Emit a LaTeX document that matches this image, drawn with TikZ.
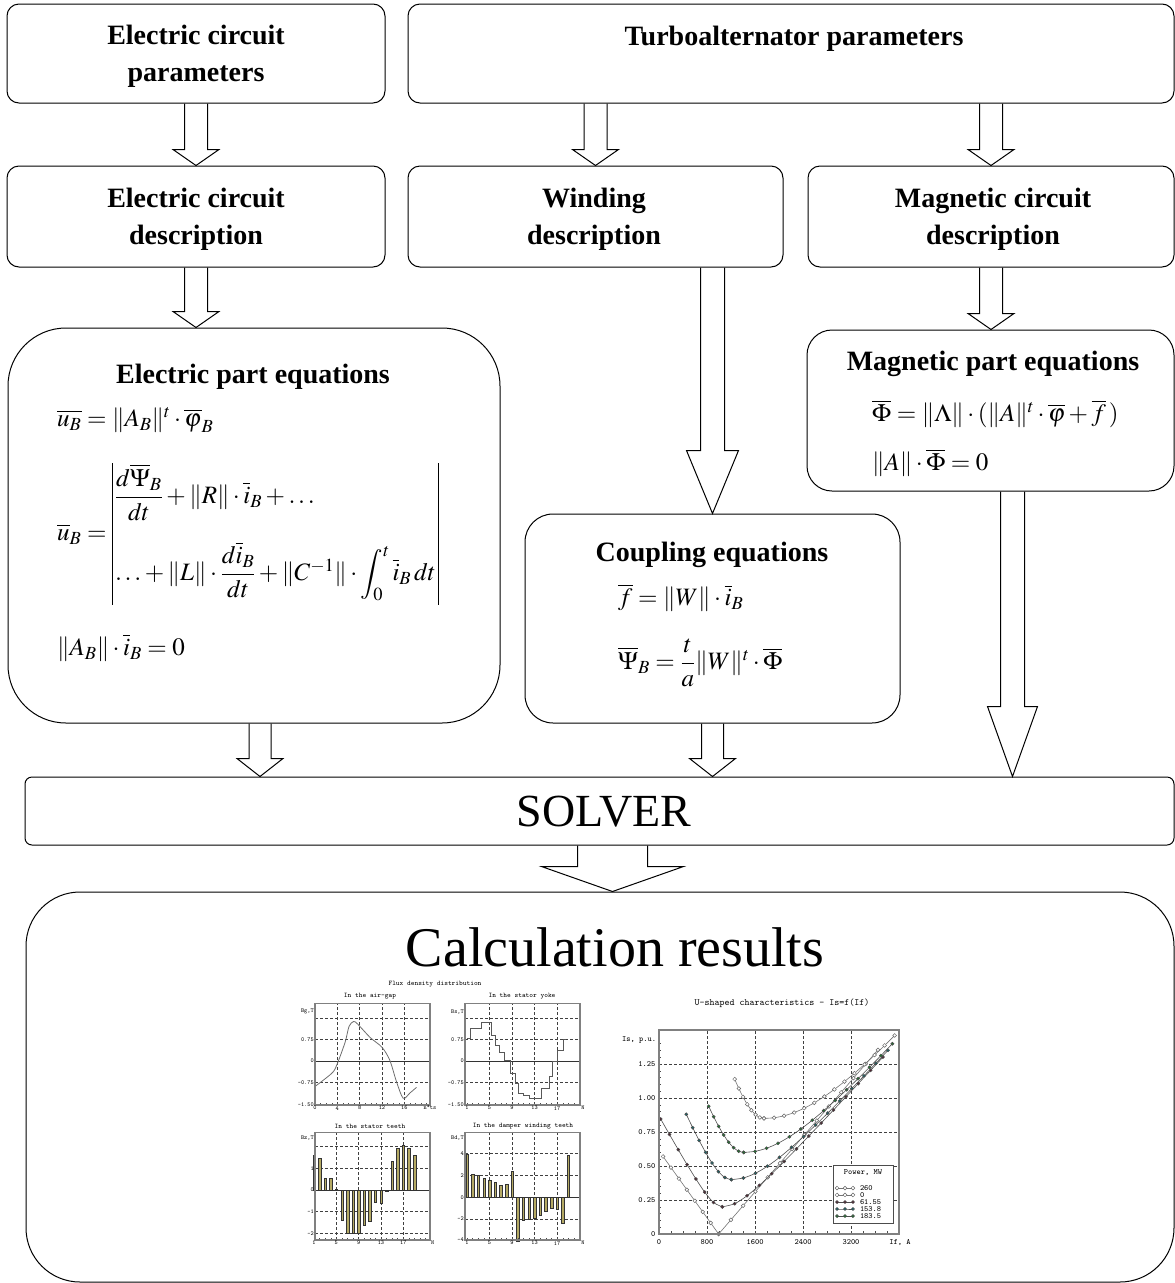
\documentclass[tikz,border=0pt]{standalone}
\usepackage{amsmath}
\usepackage{mathptmx}
\usepackage[no-math]{fontspec}
\setmainfont{Liberation Serif}
\usetikzlibrary{calc}
\definecolor{olivebar}{RGB}{181,170,100}
\definecolor{plotgray}{RGB}{110,110,110}
\definecolor{markdark}{RGB}{80,30,45}
\definecolor{markteal}{RGB}{20,105,110}
\definecolor{markgreen}{RGB}{25,125,45}

\tikzset{
  box/.style={draw, line width=1pt, rounded corners=12pt, inner sep=0pt},
  heading/.style={font=\bfseries\fontsize{28}{37}\selectfont, align=center, inner sep=0pt},
  eqn/.style={font=\fontsize{25}{30}\selectfont, anchor=west, inner sep=0pt},
  hollow/.style={draw, line width=1pt, line join=miter},
  plotframe/.style={draw=gray, line width=1.2pt},
  gridline/.style={densely dashed, line width=0.5pt, black!75},
  zeroline/.style={line width=0.7pt, black!80},
  minortick/.style={line width=0.4pt, black!70},
  ticklabel/.style={font=\ttfamily\fontsize{6}{6}\selectfont, inner sep=1pt},
  subtitle/.style={font=\ttfamily\fontsize{7}{7}\selectfont, inner sep=0pt},
  bigticklabel/.style={font=\ttfamily\fontsize{8}{8}\selectfont, inner sep=1pt},
  bar/.style={fill=olivebar, draw=black!80, line width=0.3pt},
  opencurve/.style={black!55, line width=0.6pt, mark=*, mark size=1.9pt, mark options={fill=white, draw=black!60, line width=0.5pt}},
  dotcurve/.style={black!70, line width=0.6pt, mark=*, mark size=1.5pt}
}

% block arrow: start, target (its y is used), half shaft, half head, head length
\newcommand{\hollowarrow}[5]{%
  \draw[hollow] let \p1=(#1), \p2=(#2) in
    (\x1-#3pt,\y1) -- (\x1-#3pt,\y2+#5pt) -- (\x1-#4pt,\y2+#5pt) -- (\x1,\y2)
    -- (\x1+#4pt,\y2+#5pt) -- (\x1+#3pt,\y2+#5pt) -- (\x1+#3pt,\y1);}

% U-curve: p, centre, left slope, right slope, from, to, style
\newcommand{\vcurve}[7]{%
  \draw[#7] plot[smooth, domain=#5:#2, samples=8]
    (\x,{sqrt((#1)*(#1)+((\x-#2)*#3/1000)*((\x-#2)*#3/1000))})
    -- plot[smooth, domain=#2:#6, samples=14]
    (\x,{sqrt((#1)*(#1)+((\x-#2)*#4/1000)*((\x-#2)*#4/1000))});}

\begin{document}
\begin{tikzpicture}[x=1pt,y=-1pt]
  \useasboundingbox (0,0) rectangle (1175,1283);

  % parameters
  \node[box, minimum width=378pt, minimum height=99pt] (ecp) at (196,53.5) {};
  \node[box, minimum width=766pt, minimum height=99pt] (tap) at (791,53.5) {};
  \node[heading] at (196,56) {Electric circuit\\parameters};
  \node[heading] at (794,39) {Turboalternator parameters};

  % descriptions
  \node[box, minimum width=378pt, minimum height=101pt] (ecd) at (196,216.5) {};
  \node[box, minimum width=375pt, minimum height=101pt] (wd) at (595.5,216.5) {};
  \node[box, minimum width=366pt, minimum height=101pt] (mcd) at (991,216.5) {};
  \node[heading] at (196,219) {Electric circuit\\description};
  \node[heading] at (594,219) {Winding\\description};
  \node[heading] at (993,219) {Magnetic circuit\\description};

  % equations
  \node[box, rounded corners=58pt, minimum width=492pt, minimum height=395pt] (eeq) at (254,525.5) {};
  \node[box, rounded corners=28pt, minimum width=375pt, minimum height=209pt] (ceq) at (712.5,618.5) {};
  \node[box, rounded corners=25pt, minimum width=367pt, minimum height=161pt] (meq) at (990.5,410.5) {};

  \node[heading] at (253,377) {Electric part equations};
  \node[eqn] at (57,420) {$\overline{u_B} = \|A_B\|^t\cdot\overline{\varphi}_B$};
  \node[eqn] at (57,534) {$\overline{u}_B = \begin{array}{|@{\,}l@{\,}|}
      \rule{0pt}{40pt}\dfrac{d\overline{\Psi}_B}{dt} + \|R\|\cdot\overline{i}_B + \ldots\\[30pt]
      \ldots + \|L\|\cdot\dfrac{d\overline{i}_B}{dt} + \|C^{-1}\|\cdot\displaystyle\int_0^t\overline{i}_B\,dt\rule[-24pt]{0pt}{0pt}
    \end{array}$};
  \node[eqn] at (57,648) {$\|A_B\|\cdot\overline{i}_B = 0$};

  \node[heading] at (712,555) {Coupling equations};
  \node[eqn] at (618,598) {$\overline{f} = \|W\|\cdot\overline{i}_B$};
  \node[eqn] at (618,663) {$\overline{\Psi}_B = \dfrac{t}{a}\|W\|^t\cdot\overline{\Phi}$};

  \node[heading] at (993,364) {Magnetic part equations};
  \node[eqn] at (872,414) {$\overline{\Phi} = \|\Lambda\|\cdot(\|A\|^t\cdot\overline{\varphi}+\overline{f}\,)$};
  \node[eqn] at (872,463) {$\|A\|\cdot\overline{\Phi} = 0$};

  % solver and results
  \node[box, rounded corners=7pt, minimum width=1149pt, minimum height=68pt] (sol) at (599.5,811) {};
  \node[box, rounded corners=54pt, minimum width=1148pt, minimum height=390pt] (res) at (600,1087) {};
  \node[font=\fontsize{46}{46}\selectfont, inner sep=0pt] at (604,812) {SOLVER};
  \node[font=\fontsize{56}{56}\selectfont, inner sep=0pt] at (615,947) {Calculation results};

  % arrows
  \hollowarrow{ecp.south}{ecd.north}{11.5}{23}{16}
  \hollowarrow{tap.south -| wd.north}{wd.north}{11.5}{23}{16}
  \hollowarrow{tap.south -| mcd.north}{mcd.north}{11.5}{23}{16}
  \hollowarrow{ecd.south}{eeq.north}{11.5}{23}{16}
  \hollowarrow{mcd.south}{meq.north}{11.5}{23}{16}
  \hollowarrow{wd.south -| ceq.north}{ceq.north}{12}{26}{63}
  \hollowarrow{[xshift=6pt]eeq.south}{sol.north}{11}{23}{18}
  \hollowarrow{ceq.south}{sol.north}{11}{23}{18}
  \hollowarrow{[xshift=22pt]meq.south}{sol.north}{12}{25}{70}
  \hollowarrow{[xshift=13pt]sol.south}{res.north}{35}{71}{25}

  % flux density plots
  \node[subtitle] at (435,984) {Flux density distribution};
  \node[subtitle] at (370,996) {In the air-gap};
  \node[subtitle] at (522,996) {In the stator yoke};
  \node[subtitle] at (370,1126) {In the stator teeth};
  \node[subtitle] at (523,1126) {In the damper winding teeth};

  \begin{scope}[shift={(315,1061)}, x=5.58pt, y=28.6pt]
    \foreach \v in {-0.75,0.75,1.5} \draw[gridline] (0,\v) -- (20.6,\v);
    \foreach \u in {4,8,12,16} \draw[gridline] (\u,-1.54) -- (\u,2.02);
    \draw[zeroline] (0,0) -- (20.6,0);
    \draw[plotgray, line width=0.8pt] plot[smooth] coordinates {(0,-0.89) (3.0,-0.43) (3.9,-0.14)
      (5.4,0.66) (6.1,1.21) (6.9,1.38) (7.6,1.3) (9.9,0.82) (12,0.48) (13.4,0.03) (14.6,-0.72)
      (15.8,-1.3) (17,-1.12) (18.2,-0.92)};
    \foreach \t in {1,...,20} \draw[minortick] (\t,-1.54) -- (\t,-1.47);
    \draw[plotframe] (0,-1.54) rectangle (20.6,2.02);
    \foreach \v/\lab in {0.75/0.75,0/0,-0.75/-0.75,-1.54/-1.50,1.72/{Bg,T}}
      \node[ticklabel, anchor=east] at (0,\v) {\lab};
    \foreach \u in {0,4,8,12,16} \node[ticklabel, anchor=north] at (\u,-1.54) {\u};
    \node[ticklabel, anchor=north] at (20.6,-1.54) {n°ts};
  \end{scope}

  \begin{scope}[shift={(461.4,1061)}, x=5.63pt, y=28.6pt]
    \foreach \v in {-0.75,0.75,1.5} \draw[gridline] (0.64,\v) -- (21.07,\v);
    \foreach \u in {5,9,13,17} \draw[gridline] (\u,-1.54) -- (\u,2.02);
    \draw[zeroline] (0.64,0) -- (21.07,0);
    \draw[plotgray!80!black, line width=0.8pt, const plot] plot coordinates {(1,0.78) (1.57,1.13)
      (3.57,1.36) (5.29,0.9) (6.0,0.55) (6.71,0.3) (7.57,0.03) (8.71,-0.43) (9.57,-0.77)
      (10.14,-1.12) (11,-1.2) (12.14,-1.29) (14.14,-0.95) (15.57,-0.54) (16.14,-0.02)
      (17,0.38) (18.14,0.75) (18.6,0.75)};
    \foreach \t in {1,...,20} \draw[minortick] (\t,-1.54) -- (\t,-1.47);
    \draw[plotframe] (0.64,-1.54) rectangle (21.07,2.02);
    \foreach \v/\lab in {0.75/0.75,0/0,-0.75/-0.75,-1.54/-1.50,1.72/{Bs,T}}
      \node[ticklabel, anchor=east] at (0.64,\v) {\lab};
    \foreach \u in {1,5,9,13,17} \node[ticklabel, anchor=north] at (\u,-1.54) {\u};
    \node[ticklabel, anchor=north] at (21.6,-1.54) {N};
  \end{scope}

  \begin{scope}[shift={(308.4,1190)}, x=5.58pt, y=21.7pt]
    \foreach \v in {-2,-1,1,2} \draw[gridline] (1.18,\v) -- (21.8,\v);
    \foreach \u in {5,9,13,17} \draw[gridline] (\u,-2.3) -- (\u,2.64);
    \foreach \v [count=\i] in {1.6,1.45,0.55,0.55,0.05,-1.4,-2.0,-2.0,-2.0,-1.6,-1.45,-0.55,-0.6,-0.05,1.35,1.95,2.05,1.95,1.6}
      \draw[bar] (\i-0.22,0) rectangle (\i+0.22,\v);
    \draw[zeroline] (1.18,0) -- (21.8,0);
    \foreach \t in {2,...,21} \draw[minortick] (\t,-2.3) -- (\t,-2.2);
    \draw[plotframe] (1.18,-2.3) rectangle (21.8,2.64);
    \foreach \v/\lab in {1/1,0/0,-1/-1,-2/-2,2.4/{Bz,T}}
      \node[ticklabel, anchor=east] at (1.18,\v) {\lab};
    \foreach \u in {1,5,9,13,17} \node[ticklabel, anchor=north] at (\u,-2.3) {\u};
    \node[ticklabel, anchor=north] at (22.3,-2.3) {N};
  \end{scope}

  \begin{scope}[shift={(461.4,1197.3)}, x=5.63pt, y=10.9pt]
    \foreach \v in {-2,2,4} \draw[gridline] (0.64,\v) -- (21.07,\v);
    \foreach \u in {5,9,13,17} \draw[gridline] (\u,-3.92) -- (\u,5.93);
    \foreach \v [count=\i] in {4,2.1,2.0,1.8,1.6,1.4,1.1,1.2,2.4,-4.0,-2.1,-2.0,-1.9,-1.6,-1.3,-1.0,-1.1,-2.4,3.9}
      \draw[bar] (\i-0.22,0) rectangle (\i+0.22,\v);
    \draw[zeroline] (0.64,0) -- (21.07,0);
    \foreach \t in {1,...,20} \draw[minortick] (\t,-3.92) -- (\t,-3.7);
    \draw[plotframe] (0.64,-3.92) rectangle (21.07,5.93);
    \foreach \v/\lab in {4/4,2/2,0/0,-2/-2,-3.92/-4,5.4/{Bd,T}}
      \node[ticklabel, anchor=east] at (0.64,\v) {\lab};
    \foreach \u in {1,5,9,13,17} \node[ticklabel, anchor=north] at (\u,-3.92) {\u};
    \node[ticklabel, anchor=north] at (21.6,-3.92) {N};
  \end{scope}

  % U-shaped characteristics
  \begin{scope}[shift={(659,1234)}, x=0.06pt, y=136pt]
    \node[font=\ttfamily\fontsize{9.5}{9.5}\selectfont] at (2050,1.7) {U-shaped characteristics - Is=f(If)};
    \foreach \u in {800,1600,2400,3200} \draw[gridline] (\u,0) -- (\u,1.5);
    \foreach \v in {0.25,0.5,0.75,1,1.25} \draw[gridline] (0,\v) -- (4000,\v);
    \foreach \t in {200,400,...,3800} \draw[minortick] (\t,0) -- (\t,0.025);
    \foreach \t in {0.05,0.1,...,1.45} \draw[minortick] (0,\t) -- (40,\t);
    \vcurve{0}{994}{0.615}{0.51}{67}{3650}{opencurve}
    \vcurve{0.2}{1055}{0.80}{0.48}{28}{3733}{dotcurve, mark options={fill=markdark}}
    \vcurve{0.4}{1205}{1.045}{0.494}{455}{3817}{dotcurve, mark options={fill=markteal}}
    \vcurve{0.6}{1411}{1.24}{0.51}{828}{3889}{dotcurve, mark options={fill=markgreen}}
    \vcurve{0.85}{1750}{1.55}{0.545}{1261}{3928}{opencurve}
    \draw[plotframe] (0,0) rectangle (4000,1.5);
    \foreach \v/\lab in {0/0,0.25/0.25,0.5/0.50,0.75/0.75,1/1.00,1.25/1.25}
      \node[bigticklabel, anchor=east] at (-40,\v) {\lab};
    \node[bigticklabel] at (-333,1.426) {Is, p.u.};
    \foreach \u in {0,800,1600,2400,3200} \node[bigticklabel, anchor=north] at (\u,-0.03) {\u};
    \node[bigticklabel, anchor=north] at (4017,-0.03) {If, A};
    % legend
    \draw[black!70, fill=white, line width=0.8pt] (2900,0.081) rectangle (3900,0.507);
    \node[bigticklabel] at (3400,0.45) {Power, MW};
    \draw[opencurve] plot coordinates {(2967,0.338) (3100,0.338) (3233,0.338)};
    \draw[opencurve] plot coordinates {(2967,0.287) (3100,0.287) (3233,0.287)};
    \draw[dotcurve, mark options={fill=markdark}] plot coordinates {(2967,0.235) (3100,0.235) (3233,0.235)};
    \draw[dotcurve, mark options={fill=markteal}] plot coordinates {(2967,0.184) (3100,0.184) (3233,0.184)};
    \draw[dotcurve, mark options={fill=markgreen}] plot coordinates {(2967,0.132) (3100,0.132) (3233,0.132)};
    \foreach \y/\lab in {0.338/260,0.287/0,0.235/61.55,0.184/153.8,0.132/183.5}
      \node[bigticklabel, anchor=west] at (3330,\y) {\lab};
  \end{scope}
\end{tikzpicture}
\end{document}
